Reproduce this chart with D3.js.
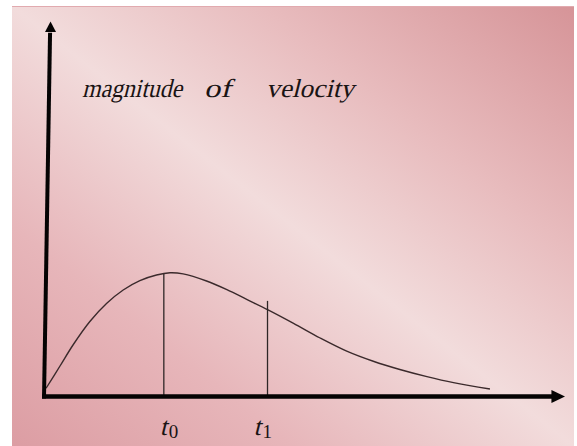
<!DOCTYPE html>
<html>
<head>
<meta charset="utf-8">
<script src="https://cdn.jsdelivr.net/npm/d3@7"></script>
<style>
  html, body { margin: 0; padding: 0; background: #ffffff; }
  svg { display: block; }
</style>
</head>
<body>
<svg id="chart" width="577" height="446"></svg>
<script>
// ---- data (time units along x, velocity units along y) ----
const curveT = [0.04, 0.31, 0.56, 0.88, 1.20, 1.52, 1.84, 2.16, 2.42, 2.67, 3.12, 3.51, 3.89, 4.30, 4.79, 5.30, 5.81, 6.32, 6.83, 7.35, 7.86, 8.56];
const curveV = [0.22, 0.82, 1.38, 2.00, 2.48, 2.84, 3.09, 3.24, 3.30, 3.27, 3.08, 2.85, 2.59, 2.31, 1.95, 1.56, 1.21, 0.94, 0.72, 0.53, 0.37, 0.20];
const markerNames = ["t0", "t1"];
const markerT = [2.30, 4.29];
const markerTopV = [3.27, 2.55];
const markerSub = ["0", "1"];
const titleWords = ["magnitude", "of", "velocity"];
const xDomain = [0, 10];
const yDomain = [0, 10];

// ---- layout ----
const italicSkew = -14; // italic look drawn by slanting the upright serif face
const W = 577, H = 446;
const svg = d3.select("#chart");
const x = d3.scaleLinear().domain(xDomain).range([44, 565]);
const y = d3.scaleLinear().domain(yDomain).range([396.5, 21.5]);

const defs = svg.append("defs");
const g = defs.append("linearGradient").attr("id", "bg")
  .attr("x1", 0).attr("y1", 1).attr("x2", 1).attr("y2", 0);
g.append("stop").attr("offset", "0").attr("stop-color", "rgb(220,157,163)");
g.append("stop").attr("offset", "0.25").attr("stop-color", "rgb(231,182,186)");
g.append("stop").attr("offset", "0.5").attr("stop-color", "rgb(242,220,220)");
g.append("stop").attr("offset", "0.72").attr("stop-color", "rgb(232,188,190)");
g.append("stop").attr("offset", "1").attr("stop-color", "rgb(214,148,152)");

svg.append("rect").attr("x", 12).attr("y", 6).attr("width", 562).attr("height", H - 6)
  .attr("fill", "url(#bg)");
svg.append("line").attr("x1", 12).attr("x2", 574).attr("y1", 6.5).attr("y2", 6.5)
  .attr("stroke", "rgb(225,170,175)").attr("stroke-width", 1);

// title text (slanted upright serif)
const title = svg.append("g").attr("transform", `translate(0,97) skewX(${italicSkew})`)
  .append("text")
  .attr("font-size", 26)
  .attr("fill", "#1a1414");
const wordX = [82, 204, 266];
const wordLen = [100, 27, 88];
titleWords.forEach((w, i) => {
  title.append("tspan").attr("x", wordX[i]).attr("y", 0)
    .attr("textLength", wordLen[i]).attr("lengthAdjust", "spacingAndGlyphs")
    .text(w);
});

// curve
const pts = curveT.map((t, i) => [t, curveV[i]]);
const line = d3.line().x(d => x(d[0])).y(d => y(d[1])).curve(d3.curveCatmullRom.alpha(0.5));
svg.append("path").datum(pts).attr("d", line)
  .attr("fill", "none").attr("stroke", "#3b2a2c").attr("stroke-width", 1.4);

// vertical marker lines
svg.selectAll("line.marker").data(markerT).enter().append("line")
  .attr("class", "marker")
  .attr("x1", d => x(d)).attr("x2", d => x(d))
  .attr("y1", (d, i) => y(markerTopV[i])).attr("y2", y(0))
  .attr("stroke", "#2e2626").attr("stroke-width", 1.3);

// axes
const axisColor = "#050303";
const yLean = 0.125;
svg.append("line")
  .attr("x1", x(0)).attr("y1", y(0) + 2)
  .attr("x2", x(yLean * 0.93)).attr("y2", y(9.7))
  .attr("stroke", axisColor).attr("stroke-width", 4);
svg.append("path")
  .attr("d", `M${x(yLean)},${y(10)} L${x(yLean) - 5.5},${y(9.72)} L${x(yLean) + 5.5},${y(9.72)} Z`)
  .attr("fill", axisColor);
svg.append("line")
  .attr("x1", x(0) - 2).attr("y1", y(0))
  .attr("x2", x(9.76)).attr("y2", y(0))
  .attr("stroke", axisColor).attr("stroke-width", 4.5);
svg.append("path")
  .attr("d", `M${x(10)},${y(0)} L${x(9.74)},${y(0) - 6.5} L${x(9.74)},${y(0) + 6.5} Z`)
  .attr("fill", axisColor);

// marker labels
const labelShift = [-4, -14];
markerT.forEach((t, i) => {
  const lg = svg.append("g").attr("transform", `translate(${x(t) + labelShift[i]},435)`);
  lg.append("text")
    .attr("transform", `skewX(${italicSkew})`)
    .attr("font-size", 26).attr("fill", "#1a1414")
    .text("t");
  lg.append("text")
    .attr("x", 9).attr("y", 3)
    .attr("font-size", 19).attr("fill", "#1a1414")
    .text(markerSub[i]);
});
</script>
</body>
</html>
